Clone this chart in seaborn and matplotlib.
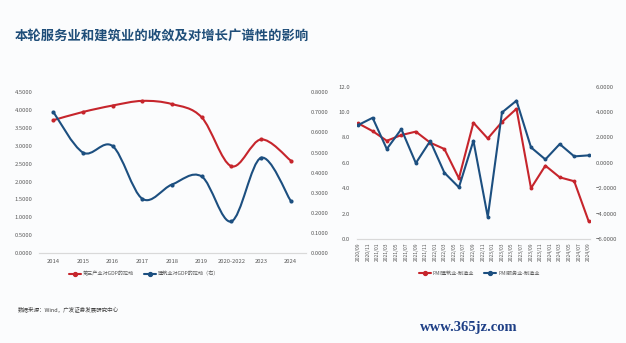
import numpy as np
import pandas as pd
import matplotlib
matplotlib.use("Agg")
import matplotlib.pyplot as plt
from matplotlib.path import Path
from matplotlib.patches import PathPatch
from matplotlib.lines import Line2D
import seaborn as sns

# ---------------- data ----------------
years = ["2014", "2015", "2016", "2017", "2018", "2019", "2020-2022", "2023", "2024"]
tertiary_pull = [3.72, 3.95, 4.13, 4.26, 4.17, 3.80, 2.43, 3.18, 2.59]          # left axis
construction_pull = [0.702, 0.500, 0.532, 0.270, 0.341, 0.381, 0.157, 0.474, 0.260]  # right axis

pmi_dates = ["2020-09", "2020-12", "2021-03", "2021-06", "2021-09", "2021-12",
             "2022-03", "2022-06", "2022-09", "2022-12", "2023-03", "2023-06",
             "2023-09", "2023-12", "2024-03", "2024-06", "2024-09"]
pmi_constr_minus_mfg = [9.11, 8.50, 7.74, 8.19, 8.46, 7.59, 7.09, 4.78, 9.16,
                        7.92, 9.22, 10.26, 4.00, 5.78, 4.86, 4.55, 1.38]       # left axis
pmi_serv_minus_mfg = [2.98, 3.55, 1.09, 2.66, -0.02, 1.72, -0.78, -1.93, 1.74,
                      -4.26, 3.97, 4.90, 1.22, 0.27, 1.48, 0.51, 0.59]          # right axis

pmi_tick_dates = ["2020-09", "2020-11", "2021-01", "2021-03", "2021-05", "2021-07",
                  "2021-09", "2021-11", "2022-01", "2022-03", "2022-05", "2022-07",
                  "2022-09", "2022-11", "2023-01", "2023-03", "2023-05", "2023-07",
                  "2023-09", "2023-11", "2024-01", "2024-03", "2024-05", "2024-07",
                  "2024-09"]
pmi_tick_labels = [d.replace("-", "/") for d in pmi_tick_dates]

title = "本轮服务业和建筑业的收敛及对增长广谱性的影响"
left_legend = ["第三产业对GDP的拉动", "建筑业对GDP的拉动（右）"]
right_legend = ["PMI建筑业-制造业", "PMI服务业-制造业"]
source = "数据来源：Wind，广发证券发展研究中心"
watermark = "www.365jz.com"

# ---------------- style ----------------
sns.set_theme(style="white")
plt.rcParams["font.family"] = ["Noto Sans CJK SC", "DejaVu Sans"]

RED = "#c6252c"
BLUE = "#1c4f80"
TICK = "#595959"
W, H = 626, 343

fig = plt.figure(figsize=(W / 100, H / 100), dpi=100, facecolor="#fbfcfd")


def fx(px):
    return px / W


def fy(py):
    return 1 - py / H


def smooth_path(xs, ys, k=1 / 6):
    pts = np.column_stack([xs, ys]).astype(float)
    n = len(pts)
    verts = [pts[0]]
    codes = [Path.MOVETO]
    for i in range(n - 1):
        p0 = pts[i - 1] if i > 0 else pts[i]
        p1 = pts[i]
        p2 = pts[i + 1]
        p3 = pts[i + 2] if i + 2 < n else pts[i + 1]
        c1 = p1 + (p2 - p0) * k
        c2 = p2 - (p3 - p1) * k
        verts += [c1, c2, p2]
        codes += [Path.CURVE4] * 3
    return Path(verts, codes)


def style_axes(ax, bottom_spine=True):
    for s in ["top", "right", "left"]:
        ax.spines[s].set_visible(False)
    ax.spines["bottom"].set_visible(bottom_spine)
    ax.spines["bottom"].set_color("#d9d9d9")
    ax.spines["bottom"].set_linewidth(0.8)
    ax.set_facecolor("none")
    ax.grid(False)


# ---------------- left chart ----------------
axL = fig.add_axes([fx(38.5), fy(253), fx(305.5 - 38.5), (253 - 92.3) / H])
axL2 = axL.twinx()
xpos = np.arange(len(years))

axL.add_patch(PathPatch(smooth_path(xpos, tertiary_pull), fill=False, edgecolor=RED, lw=1.5,
                        capstyle="round", joinstyle="round"))
sns.scatterplot(x=xpos, y=tertiary_pull, ax=axL, color=RED, s=9, edgecolor=RED, linewidth=0,
                zorder=3, legend=False)
axL2.add_patch(PathPatch(smooth_path(xpos, construction_pull), fill=False, edgecolor=BLUE, lw=1.5,
                         capstyle="round", joinstyle="round"))
sns.scatterplot(x=xpos, y=construction_pull, ax=axL2, color=BLUE, s=9, edgecolor=BLUE, linewidth=0,
                zorder=3, legend=False)

axL.set_xlim(-0.5, len(years) - 0.5)
axL.set_ylim(0, 4.5)
axL2.set_ylim(0, 0.8)
axL.set_xticks(xpos)
axL.set_xticklabels(years)
axL.set_yticks(np.arange(0, 4.51, 0.5))
axL.set_yticklabels([f"{v:.4f}" for v in np.arange(0, 4.51, 0.5)])
axL2.set_yticks(np.arange(0, 0.81, 0.1))
axL2.set_yticklabels([f"{v:.4f}" for v in np.arange(0, 0.81, 0.1)])
for a in (axL, axL2):
    style_axes(a)
    a.set_xlabel("")
    a.set_ylabel("")
axL.tick_params(axis="x", length=0, pad=4.2, labelsize=4.2, labelcolor=TICK)
axL.tick_params(axis="y", length=0, pad=4.3, labelsize=4.2, labelcolor=TICK)
axL2.tick_params(axis="y", length=0, pad=3.6, labelsize=4.2, labelcolor=TICK)

hL = [Line2D([], [], color=RED, lw=1.5, marker="o", ms=2.8),
      Line2D([], [], color=BLUE, lw=1.5, marker="o", ms=2.8)]
fig.legend(hL, left_legend, loc="center", bbox_to_anchor=(fx(144), fy(274)), ncol=2,
           frameon=False, prop={"size": 3.7}, labelcolor=TICK, handlelength=2.4,
           handletextpad=0.3, columnspacing=2.0, borderpad=0)

# ---------------- right chart ----------------
dts = pd.to_datetime(pmi_dates)
tick_dts = pd.to_datetime(pmi_tick_dates)
axR = fig.add_axes([fx(357), fy(239), fx(590 - 357), (239 - 86.7) / H])
axR2 = axR.twinx()
sns.lineplot(x=dts, y=pmi_constr_minus_mfg, ax=axR, color=RED, lw=1.5, marker="o", ms=2.8,
             markeredgewidth=0, zorder=3)
sns.lineplot(x=dts, y=pmi_serv_minus_mfg, ax=axR2, color=BLUE, lw=1.5, marker="o", ms=2.8,
             markeredgewidth=0, zorder=3)
pad = pd.Timedelta(days=8)
axR.set_xlim(dts[0] - pad, dts[-1] + pad)
axR.set_ylim(0, 12)
axR2.set_ylim(-6, 6)
axR.set_xticks(tick_dts)
axR.set_xticklabels(pmi_tick_labels, rotation=90)
axR.set_yticks(np.arange(0, 12.1, 2))
axR.set_yticklabels([f"{v:.1f}" for v in np.arange(0, 12.1, 2)])
axR2.set_yticks(np.arange(-6, 6.1, 2))
axR2.set_yticklabels([f"{v:.4f}".replace("-", "−") for v in np.arange(-6, 6.1, 2)])
for a in (axR, axR2):
    style_axes(a)
    a.set_xlabel("")
    a.set_ylabel("")
axR.tick_params(axis="x", length=0, pad=2.5, labelsize=3.6, labelcolor=TICK)
axR.tick_params(axis="y", length=0, pad=5.0, labelsize=4.3, labelcolor=TICK)
axR2.tick_params(axis="y", length=0, pad=4.0, labelsize=4.3, labelcolor=TICK)

hR = [Line2D([], [], color=RED, lw=1.5, marker="o", ms=2.8),
      Line2D([], [], color=BLUE, lw=1.5, marker="o", ms=2.8)]
fig.legend(hR, right_legend, loc="center", bbox_to_anchor=(fx(479), fy(273.5)), ncol=2,
           frameon=False, prop={"size": 3.7}, labelcolor=TICK, handlelength=2.4,
           handletextpad=0.3, columnspacing=2.0, borderpad=0)

# ---------------- texts ----------------
fig.text(fx(15), fy(37), title, fontsize=9.6, fontweight="bold", color="#1f4e79",
         ha="left", va="center")
fig.text(fx(18), fy(310), source, fontsize=4.0, color="#404040", ha="left", va="center")
fig.text(fx(420), fy(328), watermark, fontsize=10.5, color="#1e3f86", ha="left", va="center",
         family=["Liberation Serif", "DejaVu Serif"], fontweight="bold")

fig.savefig("out.png", dpi=100, facecolor=fig.get_facecolor())
